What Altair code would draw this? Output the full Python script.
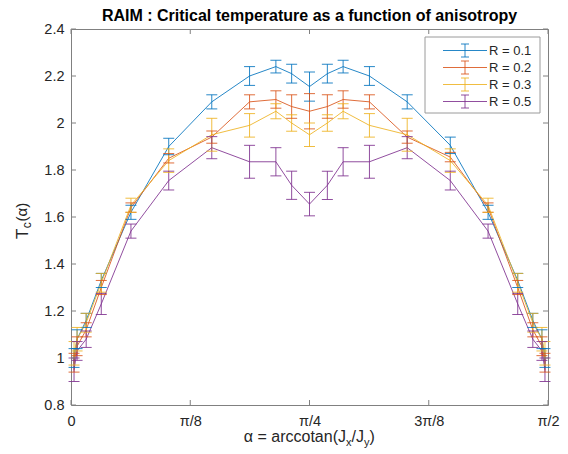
import altair as alt
import pandas as pd
import math

# ---------------- data ----------------
alpha = [0.010, 0.020, 0.050, 0.0997, 0.1974, 0.3218, 0.4636, 0.5880, 0.6747, 0.7266, 0.7854,
         0.8442, 0.8961, 0.9828, 1.1071, 1.2490, 1.3734, 1.4711, 1.5208, 1.5508, 1.5608]

series_names = ["R = 0.1", "R = 0.2", "R = 0.3", "R = 0.5"]

tc_r01 = [1.00, 1.08, 1.16, 1.33, 1.62, 1.90, 2.09, 2.20, 2.24, 2.21, 2.155,
          2.21, 2.24, 2.20, 2.09, 1.905, 1.62, 1.33, 1.16, 1.08, 1.00]
err_r01 = [0.04, 0.04, 0.03, 0.03, 0.03, 0.035, 0.03, 0.04, 0.027, 0.04, 0.062,
           0.04, 0.027, 0.04, 0.03, 0.035, 0.03, 0.03, 0.03, 0.04, 0.04]

tc_r02 = [0.98, 1.05, 1.12, 1.30, 1.64, 1.85, 1.94, 2.09, 2.10, 2.07, 2.05,
          2.07, 2.10, 2.09, 1.94, 1.855, 1.64, 1.30, 1.12, 1.05, 0.98]
err_r02 = [0.04, 0.04, 0.03, 0.03, 0.02, 0.02, 0.026, 0.03, 0.037, 0.05, 0.075,
           0.05, 0.037, 0.03, 0.026, 0.02, 0.02, 0.03, 0.03, 0.04, 0.04]

tc_r03 = [1.02, 1.08, 1.15, 1.32, 1.65, 1.84, 1.95, 1.99, 2.05, 2.00, 1.95,
          2.00, 2.05, 1.99, 1.95, 1.84, 1.65, 1.32, 1.15, 1.08, 1.02]
err_r03 = [0.05, 0.05, 0.04, 0.04, 0.03, 0.05, 0.07, 0.05, 0.032, 0.035, 0.05,
           0.035, 0.032, 0.05, 0.07, 0.05, 0.03, 0.04, 0.04, 0.05, 0.05]

tc_r05 = [0.95, 1.03, 1.08, 1.23, 1.54, 1.755, 1.895, 1.835, 1.835, 1.735, 1.655,
          1.735, 1.835, 1.835, 1.895, 1.755, 1.54, 1.23, 1.08, 1.03, 0.95]
err_r05 = [0.05, 0.04, 0.035, 0.045, 0.03, 0.04, 0.047, 0.07, 0.06, 0.06, 0.05,
           0.06, 0.06, 0.07, 0.047, 0.04, 0.03, 0.045, 0.035, 0.04, 0.05]

x_tick_values = [0, math.pi / 8, math.pi / 4, 3 * math.pi / 8, math.pi / 2]
x_tick_labels = ["0", "π/8", "π/4", "3π/8", "π/2"]
y_tick_values = [0.8, 1.0, 1.2, 1.4, 1.6, 1.8, 2.0, 2.2, 2.4]

title_text = "RAIM : Critical temperature as a function of anisotropy"

colors = ["#0072BD", "#D95319", "#EDB120", "#7E2F8E"]

# ---------------- table ----------------
rows = []
for name, tcs, errs in zip(series_names,
                           [tc_r01, tc_r02, tc_r03, tc_r05],
                           [err_r01, err_r02, err_r03, err_r05]):
    for a, t, e in zip(alpha, tcs, errs):
        rows.append({"series": name, "alpha": a, "tc": t, "lo": t - e, "hi": t + e})
df = pd.DataFrame(rows)

W, H = 477, 376
FONT = "Liberation Sans"
AXIS_GREY = "#808080"
TEXT = "#262626"
OP = 0.85

xscale = alt.Scale(domain=[0, math.pi / 2], nice=False, zero=False)
yscale = alt.Scale(domain=[0.8, 2.4], nice=False, zero=False)
cscale = alt.Scale(domain=series_names, range=colors)

label_array = "[" + ",".join("'" + s + "'" for s in x_tick_labels) + "]"

xaxis = alt.Axis(values=x_tick_values, labelExpr=label_array + "[round(datum.value*8/PI)]",
                 ticks=False, domain=False, grid=False, title=None, labelFlush=False,
                 labelFontSize=14.5, labelFont=FONT, labelColor=TEXT, labelPadding=9)
yaxis = alt.Axis(values=y_tick_values, labelExpr="format(datum.value, '.1~f')",
                 ticks=False, domain=False, grid=False, title=None,
                 labelFontSize=14.5, labelFont=FONT, labelColor=TEXT, labelPadding=7)

base = alt.Chart(df)

X = alt.X("alpha:Q", scale=xscale, axis=xaxis)
COL = alt.Color("series:N", scale=cscale, legend=None)

lines = base.mark_line(strokeWidth=1, opacity=OP).encode(
    x=X, y=alt.Y("tc:Q", scale=yscale, axis=yaxis), color=COL, order="alpha:Q",
)
bars = base.mark_rule(strokeWidth=1, opacity=OP).encode(
    x=X, y=alt.Y("lo:Q", scale=yscale, axis=yaxis), y2="hi:Q", color=COL,
)
caps_lo = base.mark_tick(orient="horizontal", size=11, thickness=1, opacity=OP).encode(
    x=X, y=alt.Y("lo:Q", scale=yscale, axis=yaxis), color=COL,
)
caps_hi = base.mark_tick(orient="horizontal", size=11, thickness=1, opacity=OP).encode(
    x=X, y=alt.Y("hi:Q", scale=yscale, axis=yaxis), color=COL,
)

# inward tick marks on all four sides (box style)
xt = pd.DataFrame({"v": x_tick_values})
yt = pd.DataFrame({"v": y_tick_values})
tick_layers = [
    alt.Chart(xt).mark_rule(color=AXIS_GREY, strokeWidth=1).encode(
        x=alt.X("v:Q", scale=xscale, axis=xaxis), y=alt.value(H), y2=alt.value(H - 5)),
    alt.Chart(xt).mark_rule(color=AXIS_GREY, strokeWidth=1).encode(
        x=alt.X("v:Q", scale=xscale, axis=xaxis), y=alt.value(0), y2=alt.value(5)),
    alt.Chart(yt).mark_rule(color=AXIS_GREY, strokeWidth=1).encode(
        y=alt.Y("v:Q", scale=yscale, axis=yaxis), x=alt.value(0), x2=alt.value(5)),
    alt.Chart(yt).mark_rule(color=AXIS_GREY, strokeWidth=1).encode(
        y=alt.Y("v:Q", scale=yscale, axis=yaxis), x=alt.value(W), x2=alt.value(W - 5)),
]


def one_row(txt):
    return alt.Chart(pd.DataFrame({"t": [txt]}))


def text_piece(txt, x, y, size, align="left", angle=0, bold=False, color=TEXT, baseline="alphabetic"):
    return one_row(txt).mark_text(
        align=align, baseline=baseline, angle=angle, fontSize=size, font=FONT,
        fontWeight="bold" if bold else "normal", color=color,
    ).encode(text="t:N", x=alt.value(x), y=alt.value(y))


# ---------------- legend (drawn by hand, MATLAB style) ----------------
LX0, LX1, LY0, LY1 = 354, 469, 8, 84
legend_layers = [
    one_row("box").mark_rect(fill="white", stroke="#9a9a9a", strokeWidth=1).encode(
        x=alt.value(LX0), x2=alt.value(LX1), y=alt.value(LY0), y2=alt.value(LY1))
]
row_step = 17
for i, (name, col) in enumerate(zip(series_names, colors)):
    cy = LY0 + 13.5 + i * row_step
    cx = 394
    legend_layers += [
        one_row(name).mark_rule(color=col, strokeWidth=1, opacity=OP).encode(
            x=alt.value(372), x2=alt.value(416), y=alt.value(cy)),
        one_row(name).mark_rule(color=col, strokeWidth=1, opacity=OP).encode(
            x=alt.value(cx), y=alt.value(cy - 6.5), y2=alt.value(cy + 6.5)),
        one_row(name).mark_rule(color=col, strokeWidth=1, opacity=OP).encode(
            x=alt.value(cx - 4), x2=alt.value(cx + 4), y=alt.value(cy - 6.5)),
        one_row(name).mark_rule(color=col, strokeWidth=1, opacity=OP).encode(
            x=alt.value(cx - 4), x2=alt.value(cx + 4), y=alt.value(cy + 6.5)),
        text_piece(name, 418, cy + 0.5, 13, baseline="middle"),
    ]

# chart title
title_layer = text_piece(title_text, W / 2, -8, 16, align="center", bold=True, color="#000000")

# x-axis title: alpha = arccotan(J_x/J_y)
F, S = 16, 11
xb = 413
x1 = 275
xt_layers = [
    text_piece("α = arccotan(J", x1, xb, F, align="right"),
    text_piece("x", x1, xb + 4, S),
    text_piece("/J", x1 + 5.5, xb, F),
    text_piece("y", x1 + 5.5 + 12.5, xb + 4, S),
    text_piece(")", x1 + 5.5 + 12.5 + 5.5, xb, F),
]

# y-axis title: T_c(alpha), rotated
yx = -43
y0 = 210
yt_layers = [
    text_piece("T", yx, y0, 17, angle=270),
    text_piece("c", yx + 2.5, y0 - 10.8, 12, angle=270),
    text_piece("(α)", yx - 1, y0 - 17.5, 15, angle=270),
]

chart = alt.layer(
    lines, bars, caps_lo, caps_hi, *tick_layers, *legend_layers,
    title_layer, *xt_layers, *yt_layers
).properties(
    width=W, height=H,
    autosize=alt.AutoSizeParams(type="none"),
    padding={"left": 63, "top": 21, "right": 12, "bottom": 49},
).configure_view(stroke=AXIS_GREY, strokeWidth=1)

chart.save("out.html", embed_options={"renderer": "svg", "actions": False})
